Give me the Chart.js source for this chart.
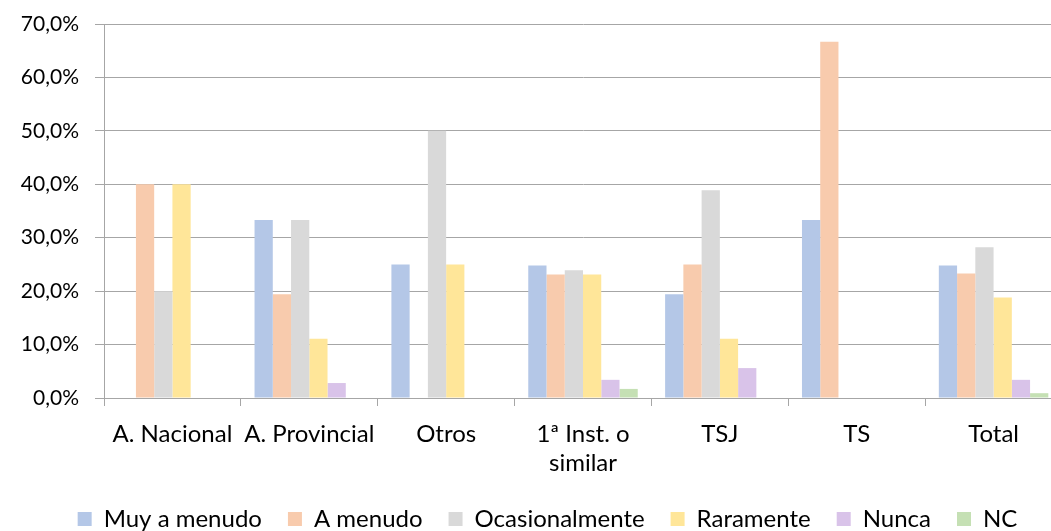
<!DOCTYPE html>
<html>
<head>
<meta charset="utf-8">
<script src="https://cdn.jsdelivr.net/npm/chart.js@4/dist/chart.umd.min.js"></script>
<style>
    html, body { margin: 0; padding: 0; background: #fff; overflow: hidden; }
    #wrap { width: 1095px; height: 541px; }
</style>
</head>
<body>
<div id="wrap"><canvas id="barChart"></canvas></div>
<script>
// Data
const categories = ['A. Nacional', 'A. Provincial', 'Otros', ['1ª Inst. o', 'similar'], 'TSJ', 'TS', 'Total'];
const muyAMenudo    = [0, 33.3, 25, 24.8, 19.4, 33.3, 24.8];
const aMenudo       = [40, 19.4, 0, 23.1, 25, 66.7, 23.3];
const ocasionalmente = [20, 33.3, 50, 23.9, 38.9, 0, 28.2];
const raramente     = [40, 11.1, 25, 23.1, 11.1, 0, 18.8];
const nunca         = [0, 2.8, 0, 3.4, 5.6, 0, 3.4];
const nc            = [0, 0, 0, 1.7, 0, 0, 0.9];

const axisGray = '#a6a6a6';
const family = 'Lato, "Open Sans", sans-serif';

const ctx = document.getElementById('barChart').getContext('2d');

const barChart = new Chart(ctx, {
    type: 'bar',
    data: {
        labels: categories,
        datasets: [
            { label: 'Muy a menudo', backgroundColor: '#b4c7e7', data: muyAMenudo },
            { label: 'A menudo', backgroundColor: '#f8cbad', data: aMenudo },
            { label: 'Ocasionalmente', backgroundColor: '#d9d9d9', data: ocasionalmente },
            { label: 'Raramente', backgroundColor: '#ffe699', data: raramente },
            { label: 'Nunca', backgroundColor: '#d9c3e9', data: nunca },
            { label: 'NC', backgroundColor: '#c5e0b4', data: nc }
        ]
    },
    options: {
        responsive: true,
        maintainAspectRatio: false,
        animation: false,
        layout: {
            padding: { top: 24, right: 0, bottom: 0, left: 0 }
        },
        datasets: {
            bar: { categoryPercentage: 0.8, barPercentage: 1.0 }
        },
        scales: {
            x: {
                grid: {
                    offset: true,
                    drawOnChartArea: false,
                    drawTicks: true,
                    tickLength: 8,
                    color: axisGray
                },
                border: { color: axisGray, width: 1 },
                ticks: {
                    color: '#000',
                    font: { family: family, size: 24 },
                    padding: 14,
                    maxRotation: 0,
                    autoSkip: false
                },
                afterFit: scale => {
                    scale.height = 83;
                    scale.paddingLeft = 0;
                    scale.paddingRight = 33;   // plot runs past the visible edge
                }
            },
            y: {
                min: 0,
                max: 70,
                grid: {
                    color: axisGray,
                    tickLength: 9
                },
                border: { color: axisGray, width: 1 },
                ticks: {
                    stepSize: 10,
                    color: '#000',
                    font: { family: family, size: 21 },
                    padding: 16,
                    callback: v => v.toFixed(1).replace('.', ',') + '%'
                },
                afterFit: scale => {
                    scale.width = 104;
                    scale.paddingTop = 0;
                    scale.paddingBottom = 0;
                }
            }
        },
        plugins: {
            tooltip: { enabled: false },
            legend: {
                position: 'bottom',
                labels: {
                    color: '#000',
                    font: { family: family, size: 24 },
                    boxWidth: 14,
                    boxHeight: 14,
                    padding: 26
                }
            }
        }
    }
});
</script>
</body>
</html>
